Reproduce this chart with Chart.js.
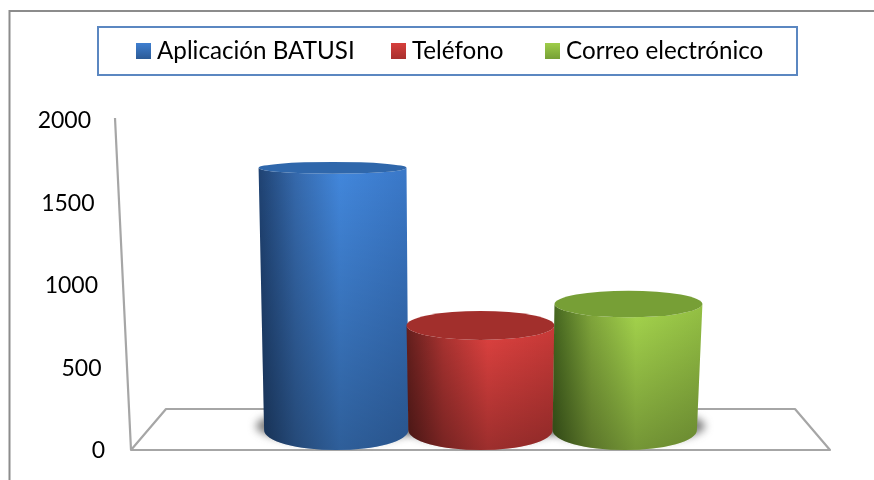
<!DOCTYPE html>
<html><head><meta charset="utf-8">
<style>html,body{margin:0;padding:0;background:#fff}#w{position:absolute;left:0;top:0;width:874px;height:480px}</style>
<script src="https://cdn.jsdelivr.net/npm/chart.js@4"></script>
</head><body><div id="w"><canvas id="c" width="874" height="480"></canvas></div>
<script>
const categories = [''];
const seriesNames = ['Aplicación BATUSI', 'Teléfono', 'Correo electrónico'];
const seriesValues = [[1710], [755], [885]];
const yTicks = [0, 500, 1000, 1500, 2000];
const palette = [
  {base:'#3a78c8', mid:'#3569ac', light:'#4287dc', dark:'#1f4272', top:'#2f67ab', swT:'#3f7fd0', swB:'#2b5a96'},
  {base:'#c93a38', mid:'#ab3331', light:'#e04240', dark:'#641f1d', top:'#a22f2c', swT:'#d63f3c', swB:'#a82f2d'},
  {base:'#94c044', mid:'#82a83c', light:'#a6d64d', dark:'#476820', top:'#779f36', swT:'#9fcd4a', swB:'#76a035'}
];
const FONT = 'Lato, Carlito, sans-serif';
const GRAY = '#a6a6a6';

function ry(y){ return Math.max(4, 0.054*y - 3.1); }

const cylinders = {
  id:'cylinders',
  beforeDatasetsDraw(chart){
    const {ctx, chartArea:a} = chart, ys = chart.scales.y;
    const y0 = ys.getPixelForValue(0), yM = ys.getPixelForValue(2000);
    ctx.save();
    ctx.strokeStyle='#8c8c8c'; ctx.lineWidth=2;
    ctx.beginPath(); ctx.moveTo(9.5,480); ctx.lineTo(9.5,11); ctx.lineTo(874,11); ctx.stroke();
    ctx.strokeStyle=GRAY; ctx.lineWidth=2.2; ctx.lineJoin='round';
    ctx.beginPath(); ctx.moveTo(a.left-16,yM-2); ctx.lineTo(a.left,y0); ctx.lineTo(a.right,y0);
    ctx.lineTo(a.right-35,y0-41); ctx.lineTo(a.left+35,y0-41); ctx.lineTo(a.left,y0); ctx.stroke();
    const cx=(a.left+a.right)/2;
    chart.data.datasets.forEach((d,i)=>{
      const b=chart.getDatasetMeta(i).data[0];
      const yb=y0-20, k=0.975;
      const x1=cx+(b.x-cx)*k;
      ctx.save();
      ctx.filter='blur(4px)';
      ctx.fillStyle='rgba(70,70,70,0.72)';
      ctx.beginPath();
      ctx.ellipse(x1,yb-4,b.width/2*k+8,17,0,0,Math.PI*2);
      ctx.fill();
      ctx.restore();
    });
    ctx.restore();
    chart.data.datasets.forEach((d,i)=>{
      const b=chart.getDatasetMeta(i).data[0], p=palette[i];
      const hw=b.width/2, k=0.975;
      const xt=b.x, yt=b.y, rt=ry(yt);
      const yb=y0-20, rb=ry(yb);
      const xb=cx+(b.x-cx)*k, hb=hw*k;
      ctx.save();
      ctx.beginPath();
      ctx.moveTo(xt-hw,yt);
      ctx.lineTo(xb-hb,yb);
      ctx.ellipse(xb,yb,hb,rb,0,Math.PI,0,true);
      ctx.lineTo(xt+hw,yt);
      ctx.ellipse(xt,yt,hw,rt,0,0,Math.PI,false);
      ctx.closePath();
      ctx.clip();
      const g=ctx.createLinearGradient(xt-hw,0,xt+hw,0);
      g.addColorStop(0,p.dark); g.addColorStop(0.25,p.mid);
      g.addColorStop(0.55,p.light); g.addColorStop(1,p.base);
      ctx.fillStyle=g; ctx.fillRect(xt-hw-10,yt-rt-2,b.width+20,y0-yt+rt+6);
      const v=ctx.createLinearGradient(0,yt,0,y0);
      v.addColorStop(0,'rgba(0,0,0,0)'); v.addColorStop(1,'rgba(0,0,0,0.3)');
      ctx.fillStyle=v; ctx.fillRect(xt-hw-10,yt-rt-2,b.width+20,y0-yt+rt+6);
      ctx.restore();
      ctx.fillStyle=p.top;
      ctx.beginPath(); ctx.ellipse(xt,yt,hw,rt,0,0,Math.PI*2); ctx.fill();
    });
    ctx.save();
    ctx.strokeStyle='#5b87c1'; ctx.lineWidth=2;
    ctx.fillStyle='#fff';
    ctx.fillRect(98,27,699,48); ctx.strokeRect(98,27,699,48);
    const boxX=[136,391,545];
    ctx.font='24.2px '+FONT; ctx.textBaseline='middle'; ctx.textAlign='left';
    chart.data.datasets.forEach((d,i)=>{
      const g=ctx.createLinearGradient(0,43,0,59);
      g.addColorStop(0,palette[i].swT); g.addColorStop(1,palette[i].swB);
      ctx.fillStyle=g; ctx.fillRect(boxX[i],43,15,16);
      ctx.fillStyle='#000'; ctx.fillText(d.label,boxX[i]+21,51);
    });
    ctx.restore();
  },
  afterLayout(chart){
    const s=chart.scales.y, items=s.getLabelItems(chart.chartArea);
    items.forEach((it,i)=>{
      const v=s.ticks[i].value;
      it.options.translation=[s.right-26-(v/2000)*14, it.options.translation[1]+1];
    });
  }
};

new Chart(document.getElementById('c'),{
  type:'bar',
  data:{labels:categories,datasets:seriesNames.map((n,i)=>({label:n,data:seriesValues[i],backgroundColor:'rgba(0,0,0,0)',borderWidth:0}))},
  options:{
    responsive:false,animation:false,
    layout:{padding:{top:120,bottom:30,left:20,right:44}},
    plugins:{legend:{display:false},tooltip:{enabled:false}},
    datasets:{bar:{categoryPercentage:0.635,barPercentage:1}},
    scales:{
      x:{display:false},
      y:{min:0,max:2000,afterBuildTicks(s){s.ticks=yTicks.map(v=>({value:v}));},
         afterFit(s){s.width=111;},
         grid:{display:false},border:{display:false},
         ticks:{color:'#000',font:{family:FONT,size:23},padding:0,callback:v=>String(v)}}
    }
  },
  plugins:[cylinders]
});
</script></body></html>
